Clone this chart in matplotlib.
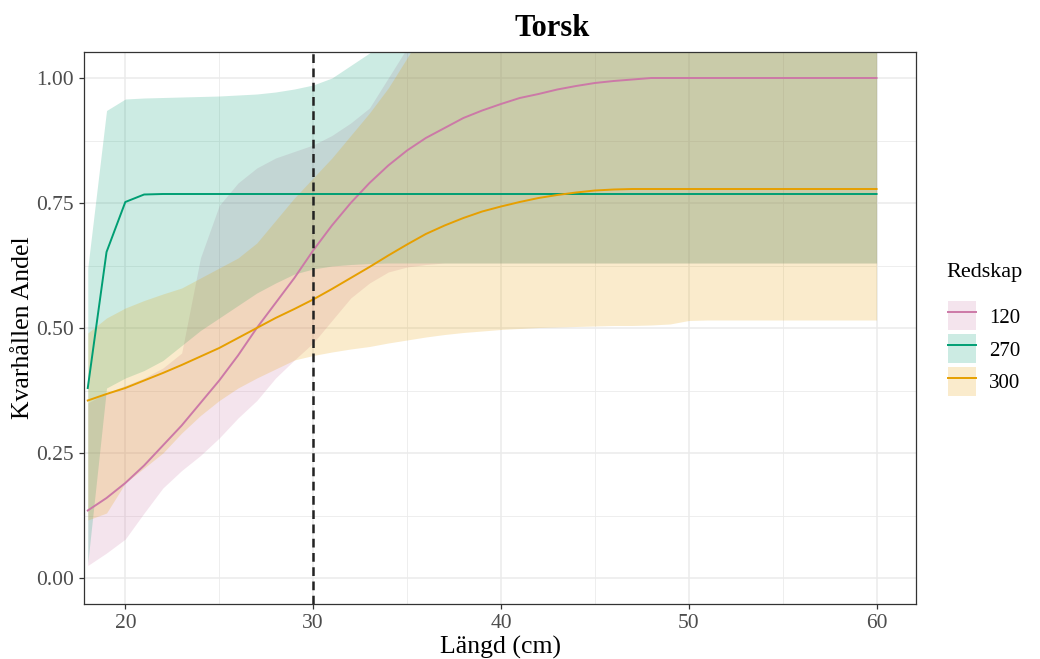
import matplotlib
matplotlib.use("Agg")
import matplotlib.pyplot as plt
from matplotlib.lines import Line2D
from matplotlib.patches import Patch
from matplotlib.legend_handler import HandlerTuple

plt.rcParams["font.family"] = ["Liberation Serif", "DejaVu Serif"]

# length classes (cm)
langd = list(range(18, 61))

# gear 120
andel_120 = [0.135, 0.16, 0.19, 0.225, 0.265, 0.305, 0.35, 0.395, 0.445, 0.50,
             0.55, 0.60, 0.655, 0.705, 0.75, 0.79, 0.825, 0.855, 0.88, 0.90,
             0.92, 0.935, 0.948, 0.96, 0.968, 0.977, 0.984, 0.99, 0.994, 0.997,
             1.0, 1.0, 1.0, 1.0, 1.0, 1.0, 1.0, 1.0, 1.0, 1.0,
             1.0, 1.0, 1.0]
lo_120 = [0.025, 0.05, 0.078, 0.13, 0.18, 0.215, 0.245, 0.28, 0.32, 0.355,
          0.40, 0.436, 0.47, 0.515, 0.56, 0.59, 0.612, 0.622, 0.627, 0.63,
          0.63, 0.63, 0.63, 0.63, 0.63, 0.63, 0.63, 0.63, 0.63, 0.63,
          0.63, 0.63, 0.63, 0.63, 0.63, 0.63, 0.63, 0.63, 0.63, 0.63,
          0.63, 0.63, 0.63]
hi_120 = [0.35, 0.37, 0.385, 0.40, 0.42, 0.45, 0.64, 0.745, 0.79, 0.82,
          0.84, 0.853, 0.866, 0.885, 0.91, 0.94, 1.0, 1.06, 1.1, 1.1,
          1.1, 1.1, 1.1, 1.1, 1.1, 1.1, 1.1, 1.1, 1.1, 1.1,
          1.1, 1.1, 1.1, 1.1, 1.1, 1.1, 1.1, 1.1, 1.1, 1.1,
          1.1, 1.1, 1.1]

# gear 270
andel_270 = [0.38, 0.652, 0.752, 0.767, 0.768, 0.768, 0.768, 0.768, 0.768, 0.768,
             0.768, 0.768, 0.768, 0.768, 0.768, 0.768, 0.768, 0.768, 0.768, 0.768,
             0.768, 0.768, 0.768, 0.768, 0.768, 0.768, 0.768, 0.768, 0.768, 0.768,
             0.768, 0.768, 0.768, 0.768, 0.768, 0.768, 0.768, 0.768, 0.768, 0.768,
             0.768, 0.768, 0.768]
lo_270 = [0.03, 0.38, 0.40, 0.415, 0.435, 0.465, 0.495, 0.52, 0.545, 0.57,
          0.59, 0.608, 0.618, 0.624, 0.627, 0.629, 0.63, 0.63, 0.63, 0.63,
          0.63, 0.63, 0.63, 0.63, 0.63, 0.63, 0.63, 0.63, 0.63, 0.63,
          0.63, 0.63, 0.63, 0.63, 0.63, 0.63, 0.63, 0.63, 0.63, 0.63,
          0.63, 0.63, 0.63]
hi_270 = [0.62, 0.935, 0.958, 0.96, 0.961, 0.962, 0.963, 0.964, 0.966, 0.968,
          0.972, 0.978, 0.986, 1.0, 1.025, 1.05, 1.08, 1.1, 1.1, 1.1,
          1.1, 1.1, 1.1, 1.1, 1.1, 1.1, 1.1, 1.1, 1.1, 1.1,
          1.1, 1.1, 1.1, 1.1, 1.1, 1.1, 1.1, 1.1, 1.1, 1.1,
          1.1, 1.1, 1.1]

# gear 300
andel_300 = [0.355, 0.368, 0.38, 0.395, 0.41, 0.426, 0.443, 0.46, 0.48, 0.50,
             0.52, 0.538, 0.557, 0.578, 0.60, 0.622, 0.645, 0.667, 0.688, 0.705,
             0.72, 0.733, 0.743, 0.752, 0.76, 0.766, 0.771, 0.775, 0.777, 0.778,
             0.778, 0.778, 0.778, 0.778, 0.778, 0.778, 0.778, 0.778, 0.778, 0.778,
             0.778, 0.778, 0.778]
lo_300 = [0.116, 0.13, 0.19, 0.22, 0.25, 0.29, 0.325, 0.355, 0.38, 0.40,
          0.418, 0.436, 0.445, 0.452, 0.458, 0.463, 0.47, 0.476, 0.482, 0.487,
          0.491, 0.494, 0.497, 0.499, 0.501, 0.502, 0.503, 0.504, 0.505, 0.505,
          0.506, 0.508, 0.515, 0.516, 0.516, 0.516, 0.516, 0.516, 0.516, 0.516,
          0.516, 0.516, 0.516]
hi_300 = [0.49, 0.52, 0.54, 0.555, 0.568, 0.58, 0.60, 0.62, 0.64, 0.67,
          0.715, 0.76, 0.80, 0.84, 0.885, 0.93, 0.98, 1.04, 1.1, 1.1,
          1.1, 1.1, 1.1, 1.1, 1.1, 1.1, 1.1, 1.1, 1.1, 1.1,
          1.1, 1.1, 1.1, 1.1, 1.1, 1.1, 1.1, 1.1, 1.1, 1.1,
          1.1, 1.1, 1.1]

redskap = ["120", "270", "300"]
colors = {"120": "#CC79A7", "270": "#009E73", "300": "#E69F00"}
series = {
    "120": (andel_120, lo_120, hi_120),
    "270": (andel_270, lo_270, hi_270),
    "300": (andel_300, lo_300, hi_300),
}

fig = plt.figure(figsize=(10.4, 6.59), dpi=100)
ax = fig.add_axes([84 / 1040, 1 - 604 / 659, 832 / 1040, 552 / 659])

ax.set_xlim(17.8, 62.1)
ax.set_ylim(-0.052, 1.052)

ax.set_xticks([20, 30, 40, 50, 60])
ax.set_xticks([25, 35, 45, 55], minor=True)
ax.set_yticks([0, 0.25, 0.5, 0.75, 1.0])
ax.set_yticklabels(["0.00", "0.25", "0.50", "0.75", "1.00"])
ax.set_yticks([0.125, 0.375, 0.625, 0.875], minor=True)
ax.grid(which="major", color="#EBEBEB", lw=1.1, zorder=0)
ax.grid(which="minor", color="#EBEBEB", lw=0.6, zorder=0)
ax.set_axisbelow(True)

for key in redskap:
    y, lo, hi = series[key]
    ax.fill_between(langd, lo, hi, color=colors[key], alpha=0.2, lw=0, zorder=1)
for key in redskap:
    y, lo, hi = series[key]
    ax.plot(langd, y, color=colors[key], lw=1.4, zorder=2)

ax.axvline(30, color="#222222", lw=1.8, ls=(0, (3.5, 2.2)), zorder=3)

for sp in ax.spines.values():
    sp.set_color("#333333")
    sp.set_linewidth(0.9)
ax.tick_params(which="major", length=3.5, width=0.9, color="#333333",
               labelsize=15.5, labelcolor="#4D4D4D", pad=4)
ax.tick_params(which="minor", length=0)

ax.set_xlabel("Längd (cm)", fontsize=18.5, labelpad=2)
ax.set_ylabel("Kvarhållen Andel", fontsize=18.5, labelpad=1)

fig.text(552 / 1040, 1 - 28 / 659, "Torsk", ha="center", va="center",
         fontsize=22, fontweight="bold")

# legend title drawn separately so the gap to the keys matches
fig.text(946 / 1040, 1 - 273 / 659, "Redskap", ha="left", va="center",
         fontsize=16)
handles = []
for key in redskap:
    handles.append((Patch(facecolor=colors[key], alpha=0.2, lw=0),
                    Line2D([], [], color=colors[key], lw=1.4)))
fig.legend(handles, redskap, loc="upper left",
           bbox_to_anchor=(938 / 1040, 1 - 291 / 659),
           handler_map={tuple: HandlerTuple(ndivide=1, pad=0)},
           frameon=False, fontsize=15,
           handlelength=1.3, handleheight=1.75,
           labelspacing=0.2, handletextpad=0.65, borderpad=0)

fig.savefig("out.png", dpi=100)
